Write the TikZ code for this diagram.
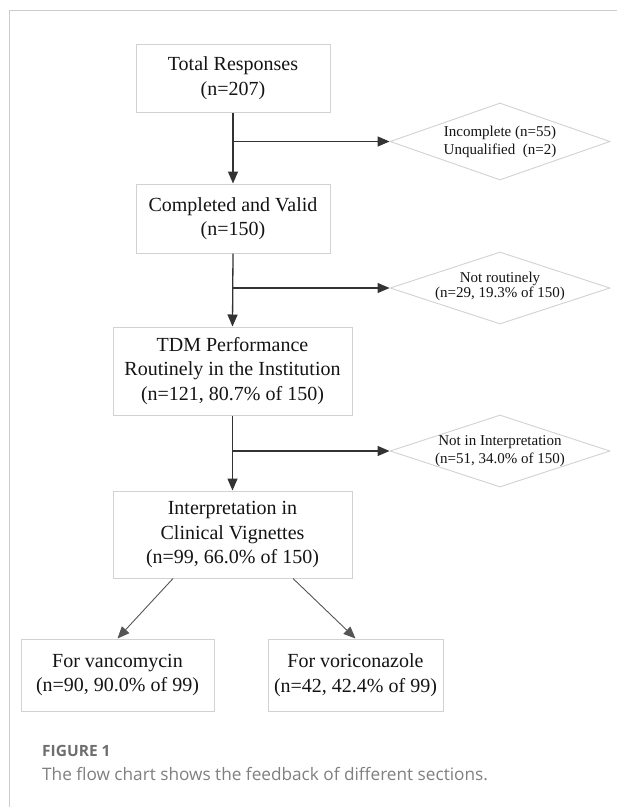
\documentclass[tikz,border=0pt]{standalone}
\usepackage{fontspec}
\setmainfont{Liberation Serif}
\newfontfamily\capfont{Open Sans}
\usetikzlibrary{arrows.meta,shapes.geometric}
\definecolor{boxgray}{HTML}{D2D2D2}
\definecolor{textc}{HTML}{141414}
\definecolor{linec}{HTML}{333333}
\definecolor{linecb}{HTML}{555555}
\definecolor{framegray}{HTML}{CCCCCC}
\definecolor{capgray}{HTML}{6E6E6E}
\definecolor{capgrayb}{HTML}{808080}
\begin{document}
\begin{tikzpicture}[x=1pt,y=-1pt,
  box/.style={draw=boxgray, line width=1pt, rectangle, inner sep=0pt, align=center,
    font=\fontsize{20}{24.5}\selectfont, text=textc},
  dia/.style={draw=boxgray, line width=0.9pt, diamond, inner sep=0pt, minimum width=220pt},
  dtext/.style={align=center, font=\fontsize{15}{18}\selectfont, inner sep=0pt, text=textc},
  flow/.style={draw=linec, line width=1.3pt, -{Triangle[length=12pt,width=10pt]}},
  diag/.style={draw=linecb, line width=0.9pt, -{Triangle[length=12pt,width=10pt]}},
  captext/.style={anchor=base west, inner sep=0pt}
]
\useasboundingbox (0,0) rectangle (617,807);
\fill[white] (0,0) rectangle (617,807);
\draw[framegray, line width=1pt] (617,10) -- (9,10) -- (9,807);

% boxes
\node[box, minimum width=194pt, minimum height=68pt] (b1) at (233,78) {Total Responses\\(n=207)};
\node[box, minimum width=194pt, minimum height=69pt] (b2) at (233,218.5) {Completed and Valid\\(n=150)};
\node[box, minimum width=239pt, minimum height=88pt] (b3) at (232.5,371) {TDM Performance\\Routinely in the Institution\\(n=121, 80.7\% of 150)};
\node[box, minimum width=239pt, minimum height=87pt] (b4) at (232.5,534.5) {Interpretation in\\Clinical Vignettes\\(n=99, 66.0\% of 150)};
\node[box, minimum width=193pt, minimum height=72pt] (b5) at (117.5,675) {For vancomycin\\(n=90, 90.0\% of 99)};
\node[box, minimum width=175pt, minimum height=72pt] (b6) at (355.5,675) {For voriconazole\\(n=42, 42.4\% of 99)};

% diamonds
\node[dia, minimum height=77pt] (d1) at (500,141.5) {};
\node[dtext] (t1) at (d1.center) {Incomplete (n=55)\\Unqualified\ \ (n=2)};
\node[dia, minimum height=72pt] (d2) at (500,288) {};
\node[dtext, font=\fontsize{15}{15.5}\selectfont] (t2) at (500,286.5) {Not routinely\\(n=29, 19.3\% of 150)};
\node[dia, minimum height=72pt] (d3) at (500,451) {};
\node[dtext] (t3) at (d3.center) {Not in Interpretation\\(n=51, 34.0\% of 150)};

% connectors
\draw[flow] (b1.south) -- (b2.north);
\draw[flow] (b1.south |- d1.west) -- (d1.west);
\draw[flow] (b2.south) -- (b3.north);
\draw[flow] (b2.south |- d2.west) -- (d2.west);
\draw[flow] (b3.south) -- (b4.north);
\draw[flow] (b3.south |- d3.west) -- (d3.west);
\draw[diag] ([xshift=-59.5pt]b4.south) -- (b5.north);
\draw[diag] ([xshift=60.5pt]b4.south) -- (b6.north);

% caption
\node[captext, font=\capfont\bfseries\fontsize{15.5}{20}\selectfont, text=capgray] (fig) at (42,756) {FIGURE 1};
\node[captext, font=\capfont\fontsize{17.2}{20}\selectfont, text=capgrayb] (cap) at (42,780) {The flow chart shows the feedback of different sections.};
\end{tikzpicture}
\end{document}
